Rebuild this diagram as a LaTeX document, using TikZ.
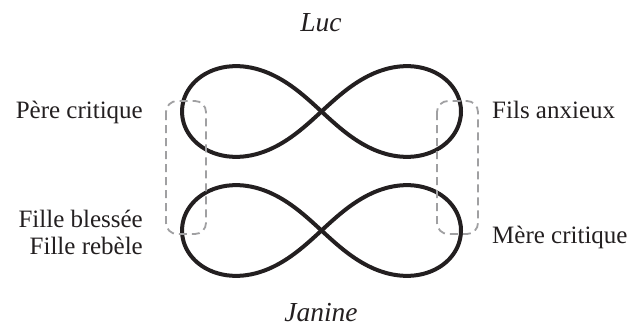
\documentclass[tikz,border=0pt]{standalone}
\usepackage{fontspec}
\setmainfont{Liberation Serif}
\begin{document}
\begin{tikzpicture}[x=1pt,y=-1pt,
  loopline/.style={line width=4pt, draw={rgb,255:red,35;green,31;blue,32}},
  groupbox/.style={line width=1.8pt, draw={rgb,255:red,160;green,160;blue,162}, rounded corners=11pt, dash pattern=on 8pt off 5pt},
  lbl/.style={font=\fontsize{25}{28}\selectfont, text={rgb,255:red,35;green,31;blue,32}, inner sep=0pt},
  namelbl/.style={font=\fontsize{27.5}{30}\selectfont\itshape, text={rgb,255:red,35;green,31;blue,32}, inner sep=0pt}]
\useasboundingbox (0,0) rectangle (643,329);
% infinity loops
\draw[loopline] plot[smooth cycle, samples=181, domain=0:358]
  ({321.5+139.5*cos(\x)/(1+sin(\x)^2)}, {111.5+0.92*139.5*sin(\x)*cos(\x)/(1+sin(\x)^2)});
\draw[loopline] plot[smooth cycle, samples=181, domain=0:358]
  ({321.5+139.5*cos(\x)/(1+sin(\x)^2)}, {230.5+0.92*139.5*sin(\x)*cos(\x)/(1+sin(\x)^2)});
% dashed group boxes
\draw[groupbox] (166,101) rectangle (206,234);
\draw[groupbox] (437,101) rectangle (478,234);
% labels
\node[namelbl, anchor=base] (luc) at (321,32) {Luc};
\node[namelbl, anchor=base] (janine) at (321,321) {Janine};
\node[lbl, anchor=base east] (pere) at (143,118) {Père critique};
\node[lbl, anchor=base east] (fille1) at (143,227) {Fille blessée};
\node[lbl, anchor=base east] (fille2) at (143,254) {Fille rebèle};
\node[lbl, anchor=base west] (fils) at (492,118) {Fils anxieux};
\node[lbl, anchor=base west] (mere) at (492,243) {Mère critique};
\end{tikzpicture}
\end{document}
